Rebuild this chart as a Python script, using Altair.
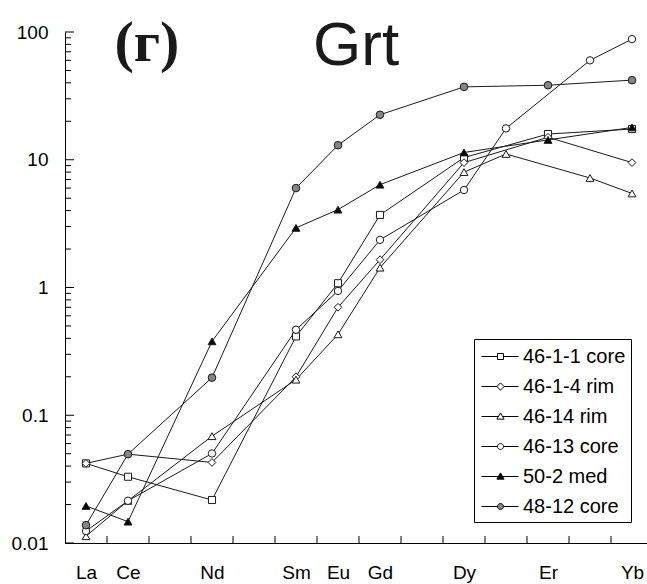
import altair as alt
import pandas as pd

# ---- data ----
elements = ["La", "Ce", "Nd", "Sm", "Eu", "Gd", "Dy", "Ho", "Er", "Tm", "Yb"]
element_pos = [0.5, 1.5, 3.5, 5.5, 6.5, 7.5, 9.5, 10.5, 11.5, 12.5, 13.5]
axis_labels = ["La", "Ce", "Nd", "Sm", "Eu", "Gd", "Dy", "Er", "Yb"]

series_names = ["46-1-1 core", "46-1-4 rim", "46-14 rim", "46-13 core", "50-2 med", "48-12 core"]
#                La      Ce      Nd      Sm     Eu    Gd    Dy    Ho    Er    Tm    Yb
s_46_1_1  = [0.042,  0.033,  0.0217, 0.414, 1.08, 3.70, 10.4, None, 15.9, None, 17.4]
s_46_1_4  = [0.042,  0.0496, 0.0427, 0.20,  0.70, 1.65, 9.5,  None, 15.0, None, 9.5]
s_46_14   = [0.0113, 0.0214, 0.0686, 0.19,  0.43, 1.43, 8.0,  11.1, None, 7.2,  5.45]
s_46_13   = [0.0124, 0.0214, 0.0502, 0.467, 0.94, 2.36, 5.8,  17.6, None, 60.0, 88.0]
s_50_2    = [0.0195, 0.0147, 0.379,  2.93,  4.07, 6.38, 11.4, None, 14.3, None, 17.9]
s_48_12   = [0.0138, 0.0496, 0.197,  6.0,   13.0, 22.5, 37.2, None, 38.3, None, 42.0]
series_values = [s_46_1_1, s_46_1_4, s_46_14, s_46_13, s_50_2, s_48_12]

y_major = [0.01, 0.1, 1, 10, 100]
x_ticks = list(range(1, 14))

# ---- styles ----
shapes = ["square", "diamond", "triangle-up", "circle", "triangle-up", "circle"]
fills = ["white", "white", "white", "white", "black", "#858585"]
sizes = [50, 60, 62, 55, 62, 58]

ln = "M-0.83,0L{a},0M{b},0L2.25,0"
legend_paths = [
    ln.format(a=0.5, b=1.0) + "M0.5,-0.25L1,-0.25L1,0.25L0.5,0.25Z",
    ln.format(a=0.45, b=1.05) + "M0.75,-0.3L1.05,0L0.75,0.3L0.45,0Z",
    ln.format(a=0.58, b=0.92) + "M0.75,-0.3L1.05,0.22L0.45,0.22Z",
    ln.format(a=0.5, b=1.0) + "M0.5,0A0.25,0.25,0,1,1,1,0A0.25,0.25,0,1,1,0.5,0Z",
    ln.format(a=0.58, b=0.92) + "M0.75,-0.3L1.05,0.22L0.45,0.22Z",
    ln.format(a=0.5, b=1.0) + "M0.5,0A0.25,0.25,0,1,1,1,0A0.25,0.25,0,1,1,0.5,0Z",
]

rows = []
for name, vals in zip(series_names, series_values):
    for el, pos, v in zip(elements, element_pos, vals):
        if v is not None:
            rows.append({"series": name, "element": el, "pos": pos, "value": v})
df = pd.DataFrame(rows)

minor = []
for d in [0.01, 0.1, 1, 10]:
    for k in range(2, 10):
        minor.append(round(d * k, 6))
ymaj_df = pd.DataFrame({"v": y_major})
ymin_df = pd.DataFrame({"v": minor})
xt_df = pd.DataFrame({"t": x_ticks})

FONT = "Liberation Sans"
W, H = 582, 511

lab_pos = [element_pos[elements.index(e)] for e in axis_labels]
label_expr = "[" + ",".join("'%s'" % e for e in axis_labels) + "][indexof([" + ",".join(str(p) for p in lab_pos) + "], datum.value)]"

xscale = alt.Scale(domain=[0, W / 42.0], nice=False, zero=False)
yscale = alt.Scale(type="log", domain=[0.01, 100], nice=False)

xenc = alt.X("pos:Q", scale=xscale,
             axis=alt.Axis(values=lab_pos, labelExpr=label_expr, ticks=False, tickSize=0,
                           grid=False, title=None, labelFont=FONT, labelFontSize=19,
                           labelColor="black", domainColor="black", labelPadding=20,
                           labelBaseline="top", labelFlush=False))
yenc = alt.Y("value:Q", scale=yscale,
             axis=alt.Axis(values=y_major, ticks=False, tickSize=0, grid=False, title=None,
                           labelExpr="datum.value >= 1 ? format(datum.value, 'd') : (datum.value >= 0.1 ? '0.1' : '0.01')",
                           labelFont=FONT, labelFontSize=19, labelColor="black",
                           domainColor="black", labelPadding=17, labelFlush=False))

lines = alt.Chart(df).mark_line(color="#1a1a1a", strokeWidth=1).encode(
    x=xenc, y=yenc, detail="series:N", order="pos:Q")

point_layers = []
for name, shp, fl, sz in zip(series_names, shapes, fills, sizes):
    point_layers.append(
        alt.Chart(df).transform_filter(alt.datum.series == name).mark_point(
            shape=shp, filled=True, fill=fl, stroke="#1a1a1a", strokeWidth=1, size=sz, opacity=1
        ).encode(x=alt.X("pos:Q", scale=xscale), y=alt.Y("value:Q", scale=yscale))
    )

leg = alt.Legend(title=None, orient="none", legendX=409, legendY=307, symbolSize=576,
                 symbolStrokeWidth=1, labelFont=FONT,
                 labelFontSize=20, labelColor="black", labelOffset=19, rowPadding=7,
                 padding=5, strokeColor="black", fillColor="white", labelLimit=300)
legend_layer = alt.Chart(df).transform_filter("false").mark_point(
    filled=True, strokeWidth=1, size=576, opacity=1).encode(
    shape=alt.Shape("series:N", scale=alt.Scale(domain=series_names, range=legend_paths), legend=leg),
    fill=alt.Fill("series:N", scale=alt.Scale(domain=series_names, range=fills), legend=leg),
    stroke=alt.Stroke("series:N", scale=alt.Scale(domain=series_names, range=["black"] * 6), legend=leg),
)

ymaj = alt.Chart(ymaj_df).mark_rule(color="black", strokeWidth=1).encode(
    y=alt.Y("v:Q", scale=yscale), x=alt.value(0), x2=alt.value(9))
ymin = alt.Chart(ymin_df).mark_rule(color="black", strokeWidth=1).encode(
    y=alt.Y("v:Q", scale=yscale), x=alt.value(0), x2=alt.value(6))
xt = alt.Chart(xt_df).mark_rule(color="black", strokeWidth=1).encode(
    x=alt.X("t:Q", scale=xscale), y=alt.value(H), y2=alt.value(H - 7))

ann1 = alt.Chart(pd.DataFrame({"x": [1.95], "y": [59.8], "t": ["(г)"]})).mark_text(
    font="Liberation Serif", fontWeight="bold", fontSize=58, baseline="alphabetic",
    align="center", color="#1a1a1a").encode(
    x=alt.X("x:Q", scale=xscale), y=alt.Y("y:Q", scale=yscale), text="t:N")
ann2 = alt.Chart(pd.DataFrame({"x": [6.93], "y": [54.7], "t": ["Grt"]})).mark_text(
    font=FONT, fontSize=62, baseline="alphabetic", align="center", color="#1a1a1a").encode(
    x=alt.X("x:Q", scale=xscale), y=alt.Y("y:Q", scale=yscale), text="t:N")

chart = alt.layer(lines, ymaj, ymin, xt, *point_layers, legend_layer, ann1, ann2).properties(
    width=W, height=H,
    padding={"left": 65, "top": 32, "right": 0, "bottom": 41},
    autosize=alt.AutoSizeParams(type="none"),
    background="white",
).configure_view(stroke=None)

chart.save("out.html", embed_options={"renderer": "svg", "actions": False})
